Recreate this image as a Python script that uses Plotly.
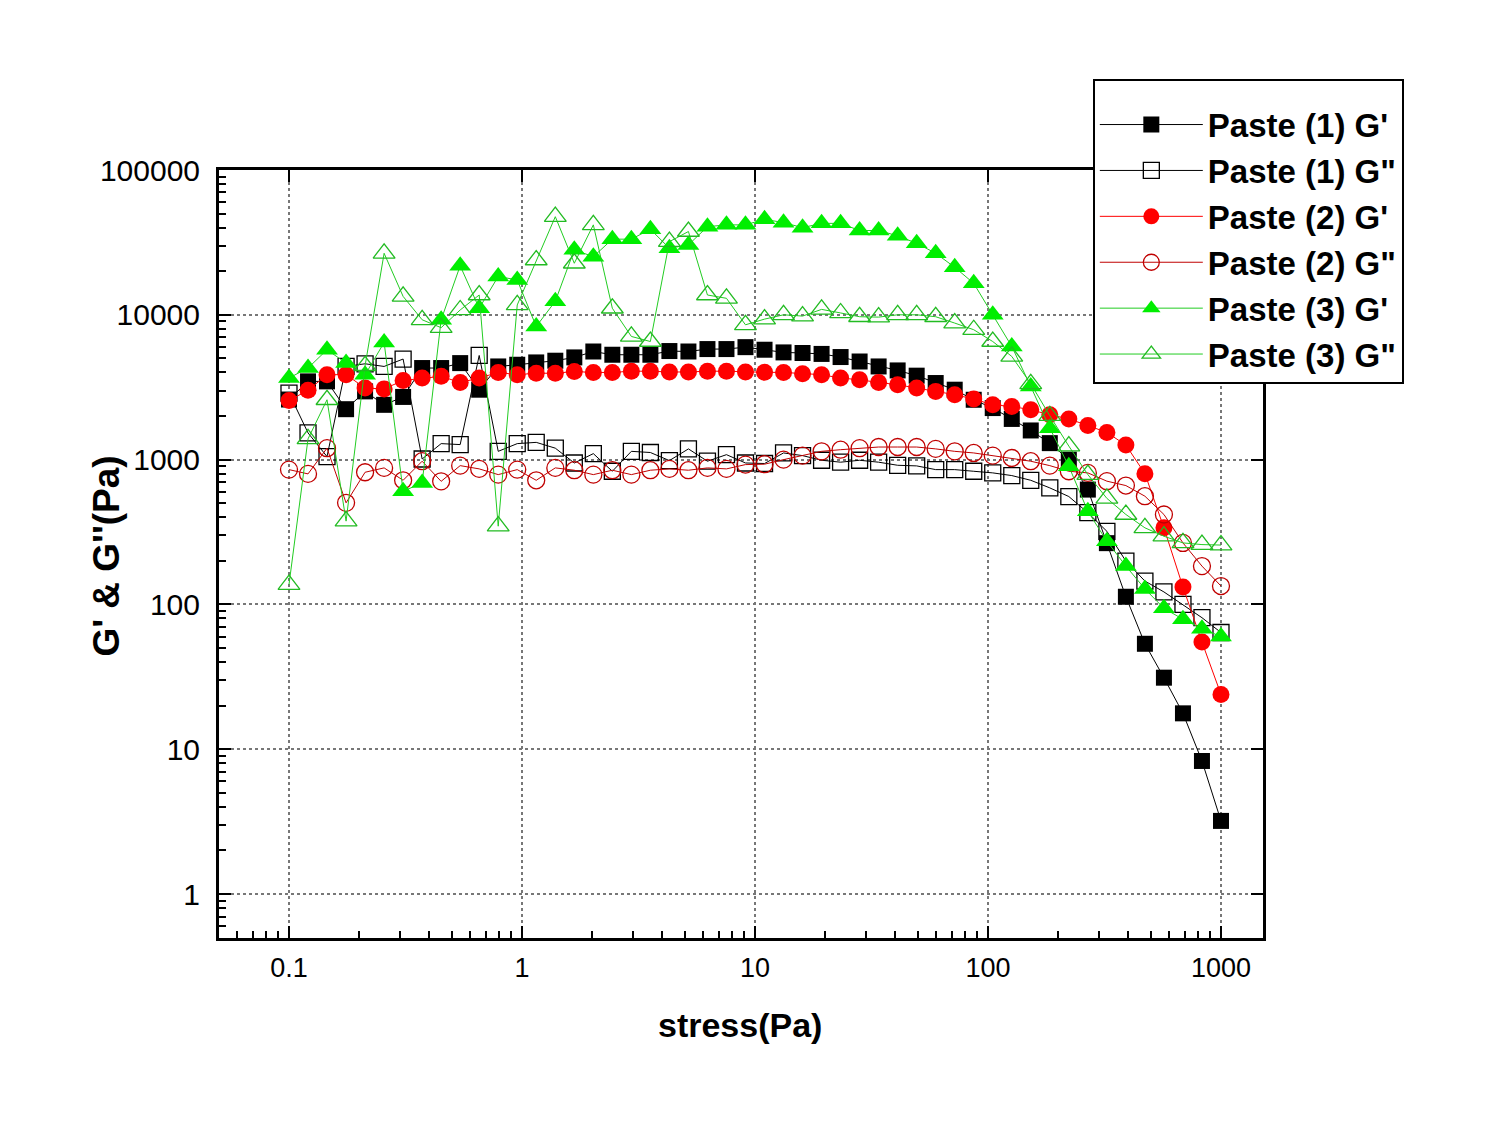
import plotly.graph_objects as go

stress = [0.1, 0.1207, 0.1456, 0.1758, 0.2121, 0.2560, 0.3089, 0.3728, 0.4498, 0.5429,
          0.6551, 0.7906, 0.9541, 1.151, 1.390, 1.677, 2.024, 2.442, 2.947, 3.557,
          4.292, 5.180, 6.251, 7.543, 9.103, 10.99, 13.26, 16.00, 19.31, 23.30,
          28.12, 33.93, 40.95, 49.42, 59.64, 71.97, 86.85, 104.8, 126.5, 152.6,
          184.2, 222.3, 268.3, 323.8, 390.7, 471.5, 569.0, 686.7, 828.6, 1000.0]

p1_gp = [2600, 3470, 3470, 2230, 2960, 2390, 2710, 4290, 4290, 4640,
         3040, 4400, 4520, 4690, 4820, 5080, 5580, 5300, 5300, 5300,
         5620, 5580, 5800, 5800, 5980, 5740, 5500, 5450, 5370, 5110,
         4760, 4400, 4130, 3800, 3380, 3040, 2590, 2270, 1910, 1590,
         1300, 1000, 621, 265, 113, 53.5, 31.2, 17.7, 8.3, 3.2]

p1_gpp = [2880, 1530, 1050, 4400, 4590, 4400, 4950, 1010, 1290, 1270,
          5240, 1141, 1290, 1316, 1200, 948, 1100, 831, 1141, 1120,
          985, 1186, 975, 1082, 948, 940, 1112, 1066, 990, 960,
          990, 960, 914, 905, 853, 853, 831, 810, 776, 720,
          638, 556, 430, 320, 199, 145, 122, 100, 81, 64]

p2_gp = [2560, 3010, 3860, 3860, 3120, 3080, 3520, 3660, 3760, 3410,
         3660, 4000, 3860, 3950, 3950, 4060, 4000, 4000, 4080, 4080,
         4030, 4030, 4080, 4080, 4030, 4010, 4000, 3920, 3860, 3660,
         3560, 3410, 3290, 3120, 2960, 2810, 2620, 2390, 2330, 2210,
         2040, 1910, 1720, 1540, 1260, 800, 338, 132, 55, 23.9]

p2_gpp = [853, 797, 1200, 503, 818, 877, 720, 975, 708, 909,
          863, 788, 853, 720, 877, 845, 788, 845, 788, 845,
          863, 845, 877, 863, 924, 930, 1000, 1066, 1141, 1171,
          1200, 1222, 1222, 1222, 1186, 1141, 1112, 1066, 1026, 975,
          909, 831, 810, 710, 662, 559, 418, 266, 184, 134]

p3_gp = [3660, 4290, 5740, 4640, 3850, 6440, 605, 690, 9240, 21800,
         11100, 18400, 17400, 8310, 12400, 28100, 25200, 33300, 33300, 39000,
         28800, 30400, 40600, 41800, 41800, 45700, 43300, 40000, 42800, 42800,
         38200, 38200, 35100, 31200, 26600, 21300, 16500, 10000, 6050, 3200,
         1650, 900, 440, 273, 184, 128, 94, 79, 68, 60]

p3_gpp = [137, 1390, 2590, 376, 4450, 26600, 13400, 9240, 8150, 10800,
          13700, 347, 11700, 23900, 47600, 22700, 41800, 11100, 7090, 6540,
          32000, 37600, 13700, 13000, 8530, 9340, 10000, 9800, 10900, 10300,
          9700, 9640, 10000, 10000, 9700, 8770, 7890, 6540, 5160, 3340,
          2010, 1240, 788, 540, 418, 338, 296, 266, 259, 257]

series_names = ["Paste (1) G'", 'Paste (1) G"', "Paste (2) G'", 'Paste (2) G"',
                "Paste (3) G'", 'Paste (3) G"']

x_ticks = [0.1, 1, 10, 100, 1000]
x_ticktext = ["0.1", "1", "10", "100", "1000"]
y_ticks = [1, 10, 100, 1000, 10000, 100000]
y_ticktext = ["1", "10", "100", "1000", "10000", "100000"]

FONT = "Liberation Sans, Arial, sans-serif"
GREEN = "#00ee00"
RED = "#ff0000"
DRED = "#c00000"

styles = [
    dict(data=p1_gp, symbol="square", mcolor="black", lcolor="black", open=False, size=16),
    dict(data=p1_gpp, symbol="square-open", mcolor="black", lcolor="black", open=True, size=16),
    dict(data=p2_gp, symbol="circle", mcolor=RED, lcolor=RED, open=False, size=17),
    dict(data=p2_gpp, symbol="circle-open", mcolor=DRED, lcolor=DRED, open=True, size=17),
    dict(data=p3_gp, symbol="triangle-up", mcolor=GREEN, lcolor="#22cc22", open=False, size=19),
    dict(data=p3_gpp, symbol="triangle-up-open", mcolor="#22bb22", lcolor="#22cc22", open=True, size=19),
]

fig = go.Figure()
for name, st in zip(series_names, styles):
    marker = dict(symbol=st["symbol"], color=st["mcolor"], size=st["size"])
    if st["open"]:
        marker["line"] = dict(width=1.3, color=st["mcolor"])
    else:
        marker["line"] = dict(width=0)
    fig.add_trace(go.Scatter(
        x=stress, y=st["data"], mode="lines+markers", name="<b>" + name + "</b>",
        line=dict(color=st["lcolor"], width=1),
        marker=marker,
    ))

# empty trace for mirrored major ticks on top/right
fig.add_trace(go.Scatter(x=[], y=[], xaxis="x2", yaxis="y2", showlegend=False,
                         hoverinfo="skip"))

xr = [-1.3004, 3.1803]
yr = [-0.3034, 5.0]

common = dict(showline=True, linecolor="black", linewidth=3, ticks="inside",
              tickcolor="black", tickwidth=2, ticklen=12, zeroline=False)

fig.update_layout(
    width=1488, height=1127,
    margin=dict(l=211, r=233, t=162, b=197, autoexpand=False),
    paper_bgcolor="white", plot_bgcolor="white",
    font=dict(family=FONT, color="black"),
    showlegend=True,
    legend=dict(x=0.837, y=1.1185, xanchor="left", yanchor="top",
                bgcolor="white", bordercolor="black", borderwidth=2,
                font=dict(family=FONT, size=33, color="black"),
                title=dict(text=" ", font=dict(size=12)),
                itemwidth=103, tracegroupgap=0),
    xaxis=dict(type="log", range=xr, tickvals=x_ticks, ticktext=x_ticktext,
               tickfont=dict(family=FONT, size=27), ticklabelstandoff=4,
               showgrid=True, gridcolor="#777777", griddash="dot", gridwidth=1.5,
               minor=dict(ticks="inside", ticklen=7, tickwidth=1.5, tickcolor="black",
                          dtick="D1", showgrid=False),
               mirror=True, **common),
    yaxis=dict(type="log", range=yr, tickvals=y_ticks, ticktext=y_ticktext,
               tickfont=dict(family=FONT, size=30), ticklabelstandoff=10,
               showgrid=True, gridcolor="#777777", griddash="dot", gridwidth=1.5,
               minor=dict(ticks="inside", ticklen=7, tickwidth=1.5, tickcolor="black",
                          dtick="D1", showgrid=False),
               mirror=True, **common),
    xaxis2=dict(type="log", range=xr, overlaying="x", side="top", anchor="y2",
                tickvals=x_ticks, showticklabels=False, showgrid=False, **common),
    yaxis2=dict(type="log", range=yr, overlaying="y", side="right", anchor="x2",
                tickvals=y_ticks, showticklabels=False, showgrid=False, **common),
    annotations=[
        dict(text="<b>stress(Pa)</b>", xref="paper", yref="paper", x=0.499, y=-0.1133,
             showarrow=False, font=dict(family=FONT, size=34), xanchor="center",
             yanchor="middle"),
        dict(text="<b>G' & G''(Pa)</b>", xref="paper", yref="paper", x=-0.108, y=0.497,
             showarrow=False, font=dict(family=FONT, size=37), textangle=-90,
             xanchor="center", yanchor="middle"),
    ],
)

fig.write_html("out.html")
